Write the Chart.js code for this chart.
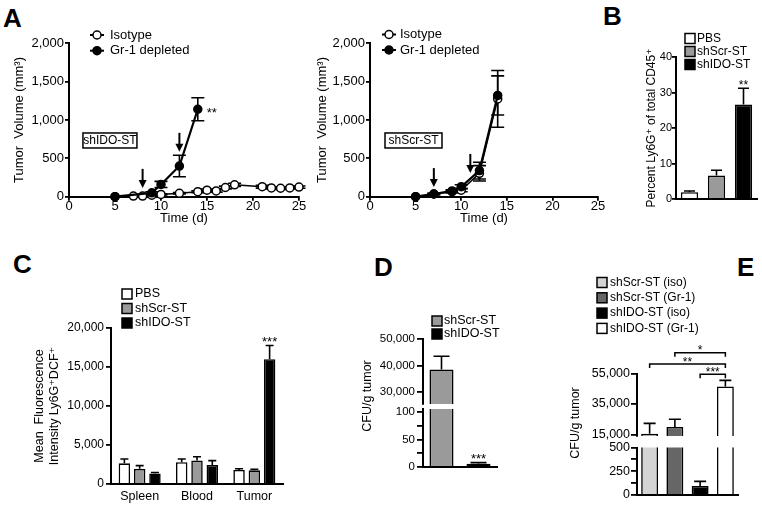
<!DOCTYPE html>
<html><head><meta charset="utf-8">
<script src="https://cdn.jsdelivr.net/npm/chart.js@4.4.0/dist/chart.umd.min.js"></script>
<style>
html,body{margin:0;padding:0;background:#fff;}
#wrap{position:relative;width:762px;height:506px;overflow:hidden;background:#fff;}
#wrap canvas{position:absolute;left:0;top:0;}
.lbl{position:absolute;font:bold 26px "Liberation Sans",Arial,sans-serif;line-height:26px;color:#000;}
</style></head><body>
<div id="wrap">
 <div class="lbl" style="left:3px;top:5px">A</div>
 <div class="lbl" style="left:603px;top:3px">B</div>
 <div class="lbl" style="left:13px;top:251px">C</div>
 <div class="lbl" style="left:374px;top:254px">D</div>
 <div class="lbl" style="left:737px;top:254px">E</div>
</div>
<script>
// ---------------- DATA ----------------
// Panel A, left (shIDO-ST)
const daysIsoA1 = [5,7,8,9,10,12,14,15,16,17,18,21,22,23,24,25];
const volIsoA1  = [0,8,8,20,30,45,65,85,75,120,155,130,115,110,115,125];
const errIsoA1  = [0,4,4,6,8,10,12,15,15,18,20,18,15,15,15,15];
const daysGrA1  = [5,9,10,12,14];
const volGrA1   = [0,50,160,400,1140];
const errGrA1   = [0,15,40,140,150];
const arrowDaysA1 = [8,12];
const arrowTipsA1 = [115,585];
// Panel A, right (shScr-ST)
const daysIsoA2 = [5,7,9,10,12,14];
const volIsoA2  = [0,35,65,85,305,1275];
const errIsoA2  = [0,8,15,20,100,370];
const daysGrA2  = [5,7,9,10,12,14];
const volGrA2   = [0,35,75,130,340,1320];
const errGrA2   = [0,8,15,25,110,255];
const arrowDaysA2 = [7,11];
const arrowTipsA2 = [125,310];
const timeTicks = [0,5,10,15,20,25];
const volTicks  = [0,500,1000,1500,2000];
const seriesA   = ['Isotype','Gr-1 depleted'];
// Panel B
const groupsB = ['PBS','shScr-ST','shIDO-ST'];
const pctB    = [1.9,6.6,26.6];
const errB    = [0.35,1.5,4.6];
const pctTicks = [0,10,20,30,40];
// Panel C
const tissuesC = ['Spleen','Blood','Tumor'];
const mfiPBS = [2650,2800,1800];
const mfiScr = [1950,3000,1750];
const mfiIDO = [1350,2450,16000];
const errPBS = [550,400,150];
const errScr = [400,500,150];
const errIDO = [120,550,1750];
const mfiTicks = [0,5000,10000,15000,20000];
// Panel D
const groupsD = ['shScr-ST','shIDO-ST'];
const cfuD = [38500,6];
const errD = [5000,2];
const dTicksHigh = [30000,40000,50000];
const dTicksLow = [0,50,100];
const dMinorLow = [25,75];
// Panel E
const groupsE = ['shScr-ST (iso)','shScr-ST (Gr-1)','shIDO-ST (iso)','shIDO-ST (Gr-1)'];
const cfuE = [15400,19900,96,46500];
const errE = [6900,5100,47,4000];
const eTicksHigh = [15000,35000,55000];
const eTicksLow = [0,250,500];
const eMinorLow = [125,375];

// ---------------- SETUP ----------------
const W = 762, H = 506;
const FONT = '"Liberation Sans", Arial, "DejaVu Sans", sans-serif';
Chart.defaults.font.family = FONT;
Chart.defaults.font.size = 13;
Chart.defaults.color = '#000';
Chart.defaults.animation = false;
Chart.defaults.events = [];
Chart.defaults.plugins.legend.display = false;
Chart.defaults.plugins.tooltip.enabled = false;

function drawErr(chart, o){
  const ctx = chart.ctx, ca = chart.chartArea, ys = chart.scales.y;
  ctx.save();
  ctx.beginPath(); ctx.rect(ca.left-30, ca.top, ca.right-ca.left+60, ca.bottom-ca.top); ctx.clip();
  ctx.strokeStyle = '#000'; ctx.lineWidth = o.lw || 1.6;
  chart.data.datasets.forEach((ds, di) => {
    if (!ds.errors) return;
    const meta = chart.getDatasetMeta(di);
    meta.data.forEach((el, i) => {
      const e = ds.errors[i]; if (!e) return;
      const raw = ds.data[i]; const v = (raw && typeof raw === 'object') ? raw.y : raw;
      const x = el.x, yT = ys.getPixelForValue(v+e), yV = ys.getPixelForValue(v), yB = ys.getPixelForValue(v-e);
      const cw = (o.cap || 10)/2;
      ctx.beginPath();
      ctx.moveTo(x, o.both ? yB : yV); ctx.lineTo(x, yT);
      ctx.moveTo(x-cw, yT); ctx.lineTo(x+cw, yT);
      if (o.both) { ctx.moveTo(x-cw, yB); ctx.lineTo(x+cw, yB); }
      ctx.stroke();
    });
  });
  ctx.restore();
}
const errPlugin = {id:'errbars',
  beforeDatasetsDraw(c,a,o){ if (o && o.enabled && o.under) drawErr(c,o); },
  afterDatasetsDraw(c,a,o){ if (o && o.enabled && !o.under) drawErr(c,o); }
};
const notesPlugin = {id:'notes', afterDraw(chart,a,o){
  if (!o || !o.items) return;
  const ctx = chart.ctx;
  o.items.forEach(it => {
    let x = it.px, y = it.py;
    if (it.dataX !== undefined) x = chart.scales.x.getPixelForValue(it.dataX);
    if (it.dataY !== undefined) y = chart.scales.y.getPixelForValue(it.dataY);
    x += it.dx || 0; y += it.dy || 0;
    const size = it.size || 13;
    ctx.save();
    ctx.font = size + 'px ' + FONT;
    ctx.fillStyle = '#000'; ctx.textAlign = it.align || 'center';
    ctx.textBaseline = 'middle';
    if (it.star) { ctx.textBaseline = 'alphabetic'; y += 0.575*size; }
    ctx.translate(x, y); if (it.rotate) ctx.rotate(it.rotate);
    if (it.box) { ctx.lineWidth = 1.5; ctx.strokeStyle = '#000'; ctx.strokeRect(-it.box[0]/2, -it.box[1]/2, it.box[0], it.box[1]); }
    ctx.fillText(it.text, 0, 0);
    ctx.restore();
  });
}};
const keyPlugin = {id:'key', afterDraw(chart,a,o){
  if (!o || !o.labels) return;
  const ctx = chart.ctx;
  ctx.save();
  ctx.font = (o.size || 13) + 'px ' + FONT; ctx.textBaseline = 'middle'; ctx.textAlign = 'left';
  o.labels.forEach((lab, i) => {
    const y = o.y + i*o.step;
    ctx.strokeStyle = '#000'; ctx.fillStyle = o.fills[i];
    if (o.kind === 'point') {
      ctx.lineWidth = 2; ctx.beginPath(); ctx.moveTo(o.x-7, y); ctx.lineTo(o.x+7, y); ctx.stroke();
      ctx.lineWidth = 1.5; ctx.beginPath(); ctx.arc(o.x, y, 4, 0, Math.PI*2); ctx.fill(); ctx.stroke();
    } else {
      ctx.lineWidth = 1.5; ctx.fillRect(o.x, y-o.box/2, o.box, o.box); ctx.strokeRect(o.x, y-o.box/2, o.box, o.box);
    }
    ctx.fillStyle = '#000'; ctx.fillText(lab, o.tx, y);
  });
  ctx.restore();
}};
const arrowPlugin = {id:'arrows', afterDatasetsDraw(chart,a,o){
  if (!o || !o.days) return;
  const ctx = chart.ctx, xs = chart.scales.x, ys = chart.scales.y;
  ctx.save(); ctx.strokeStyle = '#000'; ctx.fillStyle = '#000'; ctx.lineWidth = 2;
  o.days.forEach((d, i) => {
    const x = xs.getPixelForValue(d), tip = ys.getPixelForValue(o.tips[i]);
    ctx.beginPath(); ctx.moveTo(x, tip - o.len); ctx.lineTo(x, tip - 6); ctx.stroke();
    ctx.beginPath(); ctx.moveTo(x-4, tip-8); ctx.lineTo(x+4, tip-8); ctx.lineTo(x, tip); ctx.closePath(); ctx.fill();
  });
  ctx.restore();
}};
const bracketPlugin = {id:'brackets', afterDraw(chart,a,o){
  if (!o || !o.items) return;
  const ctx = chart.ctx, xs = chart.scales.x, ys = chart.scales.y;
  ctx.save(); ctx.strokeStyle = '#000'; ctx.fillStyle = '#000'; ctx.lineWidth = 1.5;
  ctx.font = '12px ' + FONT; ctx.textAlign = 'center'; ctx.textBaseline = 'alphabetic';
  o.items.forEach(b => {
    const x1 = xs.getPixelForValue(b.from), x2 = xs.getPixelForValue(b.to), y = ys.getPixelForValue(b.value);
    ctx.beginPath(); ctx.moveTo(x1, y+4); ctx.lineTo(x1, y); ctx.lineTo(x2, y); ctx.lineTo(x2, y+4); ctx.stroke();
    ctx.fillText(b.label, (x1+x2)/2, y+1.5);
  });
  ctx.restore();
}};
Chart.register(errPlugin, notesPlugin, keyPlugin, arrowPlugin, bracketPlugin);

function pad(L,T,R,B,Wy,Hx){ return {left:L-Wy, top:T, right:W-R, bottom:H-B-Hx}; }
function fmt(v){ return Number(v).toLocaleString('en-US'); }
function yAxis(o){
  const minor = o.minor || [];
  return {
    type:'linear', position:'left', min:o.min, max:o.max, z:1,
    border:{display:true, color:'#000', width:2},
    grid:{display:true, drawOnChartArea:false, drawTicks:true, tickLength:o.tl||5, tickWidth:1.8, tickColor:'#000', color:'#000', lineWidth:1.8},
    ticks:{color:'#000', font:{size:o.size||13}, padding:(o.tp==null?1:o.tp), autoSkip:false,
      callback:(v) => minor.includes(v) ? '' : fmt(v)},
    title: o.title ? {display:true, text:o.title, color:'#000', font:{size:o.titleSize||13}, padding:{top:0,bottom:0}} : {display:false},
    afterFit:(s) => { s.width = o.wy; },
    afterBuildTicks:(s) => { s.ticks = o.list.concat(minor).sort((a,b)=>a-b).map(v => ({value:v})); }
  };
}
function xTime(hx){
  return { type:'linear', min:0, max:25, z:1,
    border:{display:true, color:'#000', width:2},
    grid:{display:true, drawOnChartArea:false, drawTicks:true, tickLength:4, tickWidth:1.8, tickColor:'#000', color:'#000', lineWidth:1.8},
    ticks:{color:'#000', font:{size:13}, padding:-2, maxRotation:0, autoSkip:false},
    afterBuildTicks:(s) => { s.ticks = timeTicks.map(v => ({value:v})); },
    title:{display:true, text:'Time (d)', color:'#000', font:{size:13}, padding:{top:0,bottom:0}},
    afterFit:(s) => { s.height = hx; } };
}
function xCat(o){
  return { type:'category', z:1, display:o.display !== false, offset:true,
    border:{display:true, color:'#000', width:2},
    grid:{display:false},
    ticks:{display:!!o.labels, color:'#000', font:{size:o.size||12.5}, padding:(o.tp==null?3:o.tp), maxRotation:0, autoSkip:false},
    afterFit:(s) => { s.height = o.h || 0; } };
}
function makeChart(cfg){
  const c = document.createElement('canvas');
  c.width = W; c.height = H; c.style.width = W+'px'; c.style.height = H+'px';
  document.getElementById('wrap').appendChild(c);
  cfg.options = Object.assign({responsive:false, maintainAspectRatio:false, devicePixelRatio:1}, cfg.options);
  return new Chart(c.getContext('2d'), cfg);
}
function lineSets(dIso, vIso, eIso, dGr, vGr, eGr){
  return [
    {label:seriesA[1], data:dGr.map((d,i)=>({x:d,y:vGr[i]})), errors:eGr, borderColor:'#000', borderWidth:2.2,
     pointRadius:4, pointBackgroundColor:'#000', pointBorderColor:'#000', pointBorderWidth:1.5, clip:false, tension:0},
    {label:seriesA[0], data:dIso.map((d,i)=>({x:d,y:vIso[i]})), errors:eIso, borderColor:'#000', borderWidth:1.5,
     pointRadius:4, pointBackgroundColor:'#fff', pointBorderColor:'#000', pointBorderWidth:1.5, clip:false, tension:0}
  ];
}
const volTitle = 'Tumor  Volume (mm\u00B3)';

// ---------------- PANEL A (left) ----------------
makeChart({type:'line', data:{datasets:lineSets(daysIsoA1, volIsoA1, errIsoA1, daysGrA1, volGrA1, errGrA1)},
  options:{layout:{padding:pad(69,43.3,299,196.7,57.8,29.1)},
    scales:{x:xTime(29.1), y:yAxis({min:0,max:2000,list:volTicks,wy:57.8,tl:4,tp:1,title:volTitle})},
    plugins:{errbars:{enabled:true,both:true,under:true,cap:13,lw:1.6},
      arrows:{days:arrowDaysA1, tips:arrowTipsA1, len:19},
      key:{kind:'point', labels:seriesA, fills:['#fff','#000'], x:97, tx:110, y:35, step:15.7, size:13},
      notes:{items:[{text:'shIDO-ST', dataX:4.45, dataY:733, size:12, box:[54,15]},
                    {text:'**', dataX:daysGrA1[4], dataY:volGrA1[4], dx:14, star:true, size:13}]}}}});

// ---------------- PANEL A (right) ----------------
makeChart({type:'line', data:{datasets:lineSets(daysIsoA2, volIsoA2, errIsoA2, daysGrA2, volGrA2, errGrA2)},
  options:{layout:{padding:pad(370,43.3,598,196.7,55.8,29.1)},
    scales:{x:xTime(29.1), y:yAxis({min:0,max:2000,list:volTicks,wy:55.8,tl:4,tp:1,title:volTitle})},
    plugins:{errbars:{enabled:true,both:true,under:true,cap:13,lw:1.6},
      arrows:{days:arrowDaysA2, tips:arrowTipsA2, len:19},
      key:{kind:'point', labels:seriesA, fills:['#fff','#000'], x:389, tx:400, y:34.5, step:15.5, size:13},
      notes:{items:[{text:'shScr-ST', dataX:4.77, dataY:733, size:12, box:[57,15]}]}}}});

// ---------------- PANEL B ----------------
makeChart({type:'bar', data:{labels:groupsB, datasets:[{data:pctB, errors:errB,
    backgroundColor:['#fff','#9a9a9a','#000'], borderColor:'#000', borderWidth:1.6, borderSkipped:'start',
    barPercentage:0.64, categoryPercentage:1}]},
  options:{layout:{padding:pad(676,57,757,199,31.2,0)},
    scales:{x:xCat({h:0}), y:yAxis({min:0,max:40,list:pctTicks,wy:31.2,tl:4,tp:0,size:11,
      title:'Percent Ly6G\u207A of total CD45\u207A', titleSize:12})},
    plugins:{errbars:{enabled:true,cap:11,lw:1.6},
      key:{kind:'box', labels:groupsB, fills:['#fff','#9a9a9a','#000'], x:685, tx:697, y:38.5, step:13, box:10, size:12},
      notes:{items:[{text:'**', dataX:2, dataY:pctB[2]+errB[2], dy:-6, star:true, size:12}]}}}});

// ---------------- PANEL C ----------------
const barC = (lab, data, err, col) => ({label:lab, data:data, errors:err, backgroundColor:col, borderColor:'#000',
  borderWidth:1.6, borderSkipped:'start', barPercentage:0.75, categoryPercentage:0.8});
makeChart({type:'bar', data:{labels:tissuesC, datasets:[
    barC(groupsB[0], mfiPBS, errPBS, '#fff'), barC(groupsB[1], mfiScr, errScr, '#9a9a9a'), barC(groupsB[2], mfiIDO, errIDO, '#000')]},
  options:{layout:{padding:pad(111,328,283,484,78.5,20)},
    scales:{x:xCat({labels:true,h:20,size:12.5,tp:-3}),
      y:yAxis({min:0,max:20000,list:mfiTicks,wy:78.5,tl:5,tp:2,size:12,
        title:['Mean  Fluorescence','Intensity Ly6G\u207ADCF\u207A'], titleSize:12.5})},
    plugins:{errbars:{enabled:true,cap:8,lw:1.6},
      key:{kind:'box', labels:groupsB, fills:['#fff','#9a9a9a','#000'], x:122, tx:135, y:294, step:14.5, box:10, size:12.5},
      notes:{items:[{text:'***', dataX:2, dx:15.3, dataY:mfiIDO[2]+errIDO[2], dy:-7, star:true, size:13}]}}}});

// ---------------- PANEL D (broken axis) ----------------
const barD = () => [{data:cfuD, errors:errD, backgroundColor:['#9a9a9a','#000'], borderColor:'#000', borderWidth:1.6,
  borderSkipped:'start', barPercentage:0.65, categoryPercentage:1}];
makeChart({type:'bar', data:{labels:groupsD, datasets:barD()},
  options:{layout:{padding:pad(423,339,497,404,50,0)},
    scales:{x:xCat({display:false}), y:yAxis({min:25470,max:50000,list:dTicksHigh,wy:50,tl:6,tp:2,size:11.5})},
    plugins:{errbars:{enabled:true,cap:16,lw:1.6},
      key:{kind:'box', labels:groupsD, fills:['#9a9a9a','#000'], x:432, tx:444, y:321, step:13, box:10, size:12.5}}}});
makeChart({type:'bar', data:{labels:groupsD, datasets:barD()},
  options:{layout:{padding:pad(423,409,497,467,50,0)},
    scales:{x:xCat({h:0}), y:yAxis({min:0,max:105.5,list:dTicksLow,minor:dMinorLow,wy:50,tl:6,tp:2,size:11.5})},
    plugins:{errbars:{enabled:true,cap:16,lw:1.6},
      notes:{items:[{text:'CFU/g tumor', px:368, py:396, rotate:-Math.PI/2, size:12.5},
                    {text:'***', dataX:1, dataY:cfuD[1]+errD[1], dy:-7, star:true, size:13}]}}}});

// ---------------- PANEL E (broken axis) ----------------
const colE = ['#d4d4d4','#666666','#000000','#ffffff'];
const barE = () => [{data:cfuE, errors:errE, backgroundColor:colE, borderColor:'#000', borderWidth:1.6,
  borderSkipped:'start', barPercentage:0.67, categoryPercentage:1}];
makeChart({type:'bar', data:{labels:groupsE, datasets:barE()},
  options:{layout:{padding:pad(637,373.5,738,436,55,0)},
    scales:{x:xCat({display:false}), y:yAxis({min:14000,max:55000,list:eTicksHigh,wy:55,tl:6,tp:1,size:12.5})},
    plugins:{errbars:{enabled:true,cap:12,lw:1.6},
      key:{kind:'box', labels:groupsE, fills:colE, x:597, tx:610, y:282.5, step:15.3, box:10, size:12},
      brackets:{items:[{from:1,to:3,value:68640,label:'*'},{from:0,to:3,value:61230,label:'**'},{from:2,to:3,value:54480,label:'***'}]}}}});
makeChart({type:'bar', data:{labels:groupsE, datasets:barE()},
  options:{layout:{padding:pad(637,447.5,738,495,55,0)},
    scales:{x:xCat({h:0}), y:yAxis({min:0,max:500,list:eTicksLow,minor:eMinorLow,wy:55,tl:6,tp:1,size:12.5})},
    plugins:{errbars:{enabled:true,cap:12,lw:1.6},
      notes:{items:[{text:'CFU/g tumor', px:576, py:423, rotate:-Math.PI/2, size:12.5}]}}}});
</script>
</body></html>
